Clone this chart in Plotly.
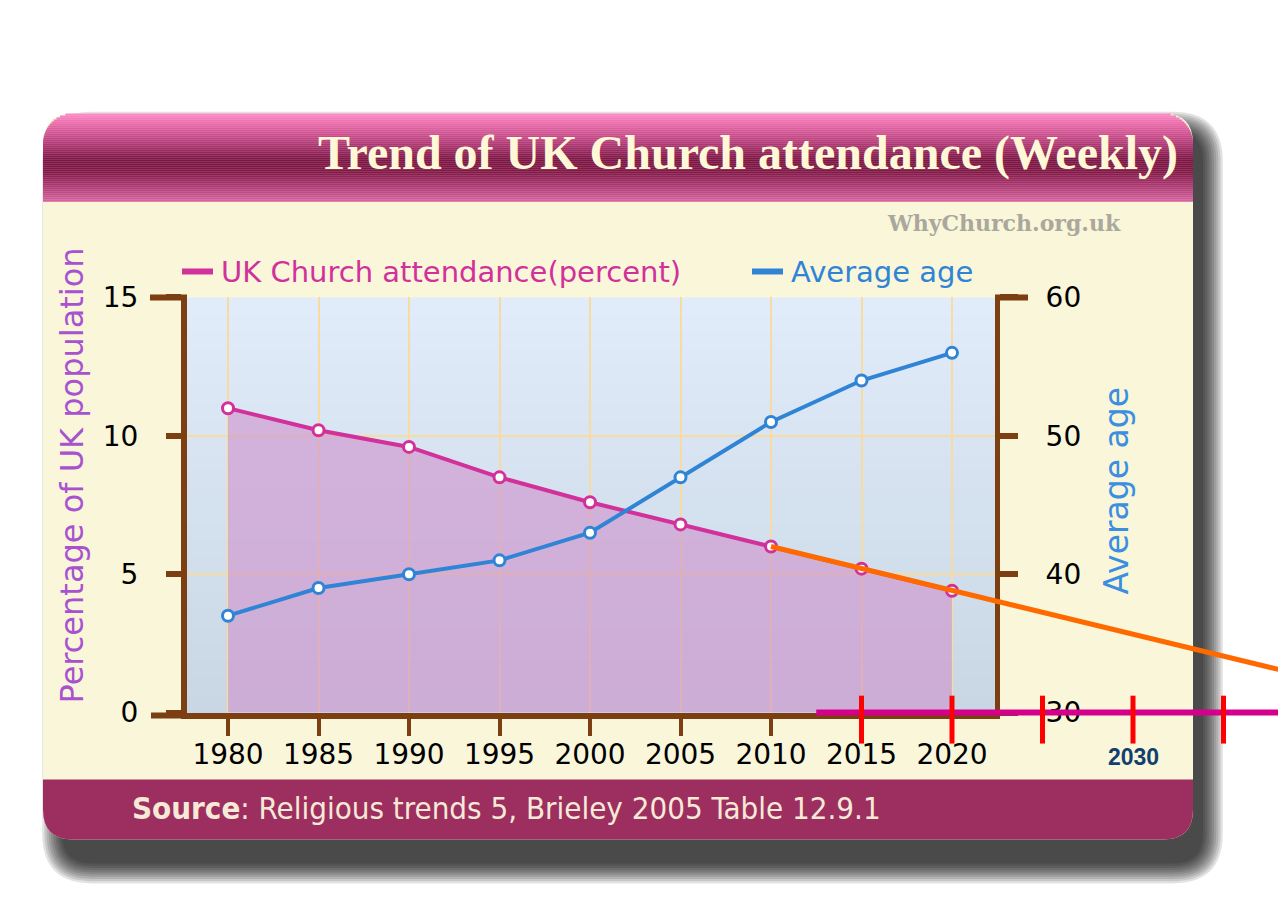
import plotly.graph_objects as go

# Screen calibration: the figure lands 8px from the left, and vertically
# screen_y = S * (T + figure_y).
OX, S, T = 8, 0.964, 23.4
FW, FH = 1270, 921

# ---------------- data ----------------
years = [1980, 1985, 1990, 1995, 2000, 2005, 2010, 2015, 2020]
attendance_pct = [11.0, 10.2, 9.6, 8.5, 7.6, 6.8, 6.0, 5.2, 4.4]
average_age = [37, 39, 40, 41, 43, 47, 51, 54, 56]

trend_years = [2010, 2040]          # orange extrapolation line
trend_pct = [6.0, 1.25]

baseline_years = [2012.5, 2040]     # magenta timeline drawn over the x axis
baseline_pct = [0, 0]

marker_years = [2015, 2020, 2025, 2030, 2035]   # red timeline ticks
marker_top, marker_bottom = 0.61, -1.12
label_year, label_text = 2030, "2030"

left_ticks = [0, 5, 10, 15]
right_ticks = [30, 40, 50, 60]

title_main = "Trend of UK Church attendance"
title_tail = "(Weekly)"
credit_text = "WhyChurch.org.uk"
source_bold = "Source"
source_rest = ": Religious trends 5, Brieley 2005 Table 12.9.1"
series_names = ["UK Church attendance(percent)", "Average age"]
left_title = "Percentage of UK population"
right_title = "Average age"

# ---------------- colours ----------------
BROWN = "#7b3f12"
MAGENTA = "#d2309a"
BLUE = "#2f84d6"
CREAM = "#f9f6da"
BAND = "#9c2f60"
GRID = "#f7dba0"

# ---------------- layout geometry (screen pixels) ----------------
PL, PR, PT, PB = 187, 995, 296, 711
X1980_PX, PX_YEAR = 228, 18.1
PX_UNIT = (PB - PT) / 15.0

def px(x):
    return (x - OX) / FW

def py(y):
    return 1 - (y / S - T) / FH

def rect(x0, y0, x1, y1, color, layer="below", opacity=1.0):
    return dict(type="rect", xref="paper", yref="paper",
                x0=px(x0), x1=px(x1), y0=py(y1), y1=py(y0),
                fillcolor=color, line=dict(width=0), layer=layer, opacity=opacity)

def rrpath(x0, y0, x1, y1, rt, rb):
    def p(x, y):
        return f"{px(x):.6f},{py(y):.6f}"
    return (f"M{p(x0 + rt, y0)} L{p(x1 - rt, y0)} Q{p(x1, y0)} {p(x1, y0 + rt)} "
            f"L{p(x1, y1 - rb)} Q{p(x1, y1)} {p(x1 - rb, y1)} L{p(x0 + rb, y1)} "
            f"Q{p(x0, y1)} {p(x0, y1 - rb)} L{p(x0, y0 + rt)} Q{p(x0, y0)} {p(x0 + rt, y0)} Z")

def pathshape(path, color, layer="below", opacity=1.0):
    return dict(type="path", xref="paper", yref="paper", path=path,
                fillcolor=color, line=dict(width=0), layer=layer, opacity=opacity)

def lerp_stops(stops, y):
    for (ya, ca), (yb, cb) in zip(stops, stops[1:]):
        if ya <= y <= yb:
            t = (y - ya) / (yb - ya) if yb > ya else 0
            c = [round(a + (b - a) * t) for a, b in zip(ca, cb)]
            return f"rgb({c[0]},{c[1]},{c[2]})"
    c = stops[-1][1] if y > stops[-1][0] else stops[0][1]
    return f"rgb({c[0]},{c[1]},{c[2]})"

shapes = []

# card shadow (offset to the lower right)
CX0, CY0, CX1, CY1, CR = 43, 112, 1193, 838, 30
for k in range(10):
    e = (9 - k) * 2.2
    shapes.append(pathshape(rrpath(62 - e, 130 - e, 1203 + e, 862 + e, 30 + e, 30 + e),
                            "black", opacity=0.115))

# card body
shapes.append(pathshape(rrpath(CX0, CY0, CX1, CY1, CR, CR), CREAM))

# title band gradient
title_stops = [(112, (253, 140, 200)), (120, (238, 112, 178)), (135, (200, 75, 140)),
               (150, (150, 40, 95)), (158, (125, 22, 70)), (170, (128, 24, 72)),
               (182, (165, 50, 108)), (200, (215, 100, 160))]
y = CY0
while y < 200:
    yc = y + 1
    dy = CR - (yc - CY0)
    inset = CR - (CR ** 2 - dy ** 2) ** 0.5 if dy > 0 else 0
    shapes.append(rect(CX0 + inset, y, CX1 - inset, y + 2.2, lerp_stops(title_stops, yc)))
    y += 2

# bottom band
shapes.append(pathshape(rrpath(CX0, 778, CX1, CY1, 0, CR), BAND))

# plot background gradient
bg_stops = [(PT, (224, 236, 250)), (PB, (201, 214, 228))]
n = 24
for i in range(n):
    y0 = PT + (PB - PT) * i / n
    y1 = PT + (PB - PT) * (i + 1) / n
    shapes.append(rect(PL, y0, PR, y1 + 0.5, lerp_stops(bg_stops, (y0 + y1) / 2)))

# longer end ticks of the axes
shapes.append(rect(150, PT - 3, PL, PT + 3, BROWN, layer="above"))
shapes.append(rect(151, PB, PL, PB + 6, BROWN, layer="above"))
shapes.append(rect(PR, PT - 3, 1028, PT + 3, BROWN, layer="above"))

# legend swatches
shapes.append(rect(182, 267, 213, 273, MAGENTA, layer="above"))
shapes.append(rect(752, 267, 783, 273, BLUE, layer="above"))

# ---------------- traces ----------------
fig = go.Figure()
fig.add_trace(go.Scatter(
    x=years, y=attendance_pct, name=series_names[0], mode="lines+markers",
    line=dict(color=MAGENTA, width=4), fill="tozeroy", fillcolor="rgba(207,145,203,0.6)",
    marker=dict(symbol="circle", size=11, color="white", line=dict(color=MAGENTA, width=3)),
    xaxis="x", yaxis="y", showlegend=False))
fig.add_trace(go.Scatter(
    x=years, y=average_age, name=series_names[1], mode="lines+markers",
    line=dict(color=BLUE, width=4),
    marker=dict(symbol="circle", size=11, color="white", line=dict(color=BLUE, width=3)),
    xaxis="x", yaxis="y2", showlegend=False))

# overlay marks drawn on a full-page axis pair with the same scale
fig.add_trace(go.Scatter(
    x=baseline_years, y=baseline_pct, mode="lines",
    line=dict(color="#d4008c", width=6), xaxis="x3", yaxis="y3",
    showlegend=False, hoverinfo="skip"))
tick_x, tick_y = [], []
for yr in marker_years:
    tick_x += [yr, yr, None]
    tick_y += [marker_top, marker_bottom, None]
fig.add_trace(go.Scatter(
    x=tick_x, y=tick_y, mode="lines", line=dict(color="#ff0000", width=5),
    xaxis="x3", yaxis="y3", showlegend=False, hoverinfo="skip"))
fig.add_trace(go.Scatter(
    x=trend_years, y=trend_pct, mode="lines", line=dict(color="#ff6a00", width=5),
    xaxis="x3", yaxis="y3", showlegend=False, hoverinfo="skip"))

# ---------------- annotations ----------------
SANS = "DejaVu Sans, Verdana, sans-serif"
ann = []
ann.append(dict(x=px(1180), y=py(152), xref="paper", yref="paper", xanchor="right", yanchor="middle",
                text=f"<b>{title_main} {title_tail}</b>", showarrow=False,
                font=dict(family="Liberation Serif, Times New Roman, serif", size=48, color="#fff8d6")))
ann.append(dict(x=px(1123), y=py(222), xref="paper", yref="paper", xanchor="right", yanchor="middle",
                text=f"<b>{credit_text}</b>", showarrow=False,
                font=dict(family="DejaVu Serif, serif", size=22, color="#aaa89c")))
ann.append(dict(x=px(219), y=py(271), xref="paper", yref="paper", xanchor="left", yanchor="middle",
                text=series_names[0], showarrow=False, font=dict(family=SANS, size=29, color=MAGENTA)))
ann.append(dict(x=px(789), y=py(271), xref="paper", yref="paper", xanchor="left", yanchor="middle",
                text=series_names[1], showarrow=False, font=dict(family=SANS, size=29, color=BLUE)))
ann.append(dict(x=px(72), y=py(474), xref="paper", yref="paper", xanchor="center", yanchor="middle",
                text=left_title, textangle=-90, showarrow=False,
                font=dict(family=SANS, size=32, color="#a852d0")))
ann.append(dict(x=px(1117), y=py(490), xref="paper", yref="paper", xanchor="center", yanchor="middle",
                text=right_title, textangle=-90, showarrow=False,
                font=dict(family=SANS, size=33, color="#3b8ee0")))
ann.append(dict(x=px(130), y=py(806), xref="paper", yref="paper", xanchor="left", yanchor="middle",
                text=f"<b>{source_bold}</b>{source_rest}", showarrow=False,
                font=dict(family="Liberation Sans Narrow, DejaVu Sans Condensed, Liberation Sans, sans-serif",
                          size=31, color="#f6ead6")))
ann.append(dict(x=label_year, y=(PB - 755) / PX_UNIT, xref="x3", yref="y3", xanchor="center",
                yanchor="middle", text=f"<b>{label_text}</b>", showarrow=False,
                font=dict(family="Liberation Sans, Arial, sans-serif", size=23, color="#123f6e")))

# ---------------- axes ----------------
def xval(sx):
    return 1980 + (sx - X1980_PX) / PX_YEAR

def yval(sy):
    return (PB - sy) / PX_UNIT

x_range = [xval(PL), xval(PR)]
x3_range = [xval(OX), xval(OX + FW)]
y3_range = [yval(S * (T + FH)), yval(S * T)]

tickfont = dict(family=SANS, size=28, color="black")

fig.update_layout(
    width=FW, height=FH, margin=dict(l=0, r=0, t=0, b=0),
    paper_bgcolor="white", plot_bgcolor="rgba(0,0,0,0)",
    showlegend=False, shapes=shapes, annotations=ann,
    xaxis=dict(domain=[px(PL), px(PR)], range=x_range, tickmode="array", tickvals=years,
               ticktext=[str(v) for v in years], ticks="outside", ticklen=17, tickwidth=4,
               tickcolor=BROWN, showline=True, linecolor=BROWN, linewidth=6,
               showgrid=True, gridcolor=GRID, gridwidth=2, zeroline=False,
               tickfont=tickfont, ticklabelstandoff=-5, fixedrange=True, anchor="y"),
    yaxis=dict(domain=[py(PB), py(PT)], range=[0, 15], tickmode="array", tickvals=left_ticks,
               ticks="outside", ticklen=15, tickwidth=6, tickcolor=BROWN,
               showline=True, linecolor=BROWN, linewidth=6,
               showgrid=True, gridcolor=GRID, gridwidth=2, zeroline=False,
               tickfont=tickfont, ticklabelstandoff=22, fixedrange=True, anchor="x"),
    yaxis2=dict(overlaying="y", side="right", range=[30, 60], tickmode="array",
                tickvals=right_ticks, ticks="outside", ticklen=18, tickwidth=6, tickcolor=BROWN,
                showline=True, linecolor=BROWN, linewidth=5, showgrid=False, zeroline=False,
                tickfont=tickfont, ticklabelstandoff=22, fixedrange=True, anchor="x"),
    xaxis3=dict(domain=[0, 1], range=x3_range, visible=False, anchor="y3", fixedrange=True),
    yaxis3=dict(domain=[0, 1], range=y3_range, visible=False, anchor="x3", fixedrange=True),
)

fig.write_html("out.html")
